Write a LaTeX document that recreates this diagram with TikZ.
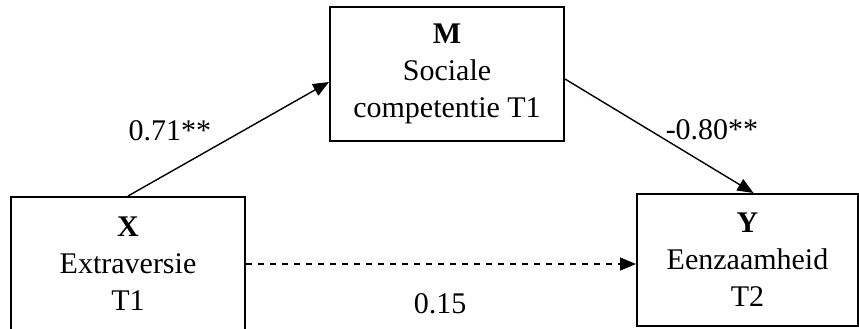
\documentclass[tikz,border=0pt]{standalone}
\usepackage{fontspec}
\setmainfont{Liberation Serif}
\usetikzlibrary{arrows.meta}
\begin{document}
\begin{tikzpicture}[x=0.5pt, y=-0.5pt,
  box/.style={draw, line width=1pt, minimum width=117pt, minimum height=67pt,
    inner sep=0pt, align=center, font=\fontsize{15}{18.5}\selectfont},
  coef/.style={font=\fontsize{15}{18}\selectfont},
  effect/.style={line width=0.7pt, -{Triangle[length=8pt,width=6.5pt]}}]
\useasboundingbox (0,0) rectangle (859,328);
\node[box] (m) at (447,74) {\textbf{M}\\Sociale\\competentie T1};
\node[box] (x) at (128,264) {\textbf{X}\\Extraversie\\T1};
\node[box, minimum width=110.5pt, minimum height=66pt] (y) at (747.5,260) {\textbf{Y}\\Eenzaamheid\\T2};

\draw[effect] (x.north) -- ([yshift=-4pt]m.west);
\draw[effect] ([yshift=-2.5pt]m.east) -- ([xshift=3pt]y.north);
\draw[effect, dash pattern=on 3pt off 3pt] (x.east) -- (x.east -| y.west);

\node[coef] (a) at (170,131) {0.71**};
\node[coef] (b) at (712,130) {-0.80**};
\node[coef] (c) at (440,304) {0.15};
\end{tikzpicture}
\end{document}
